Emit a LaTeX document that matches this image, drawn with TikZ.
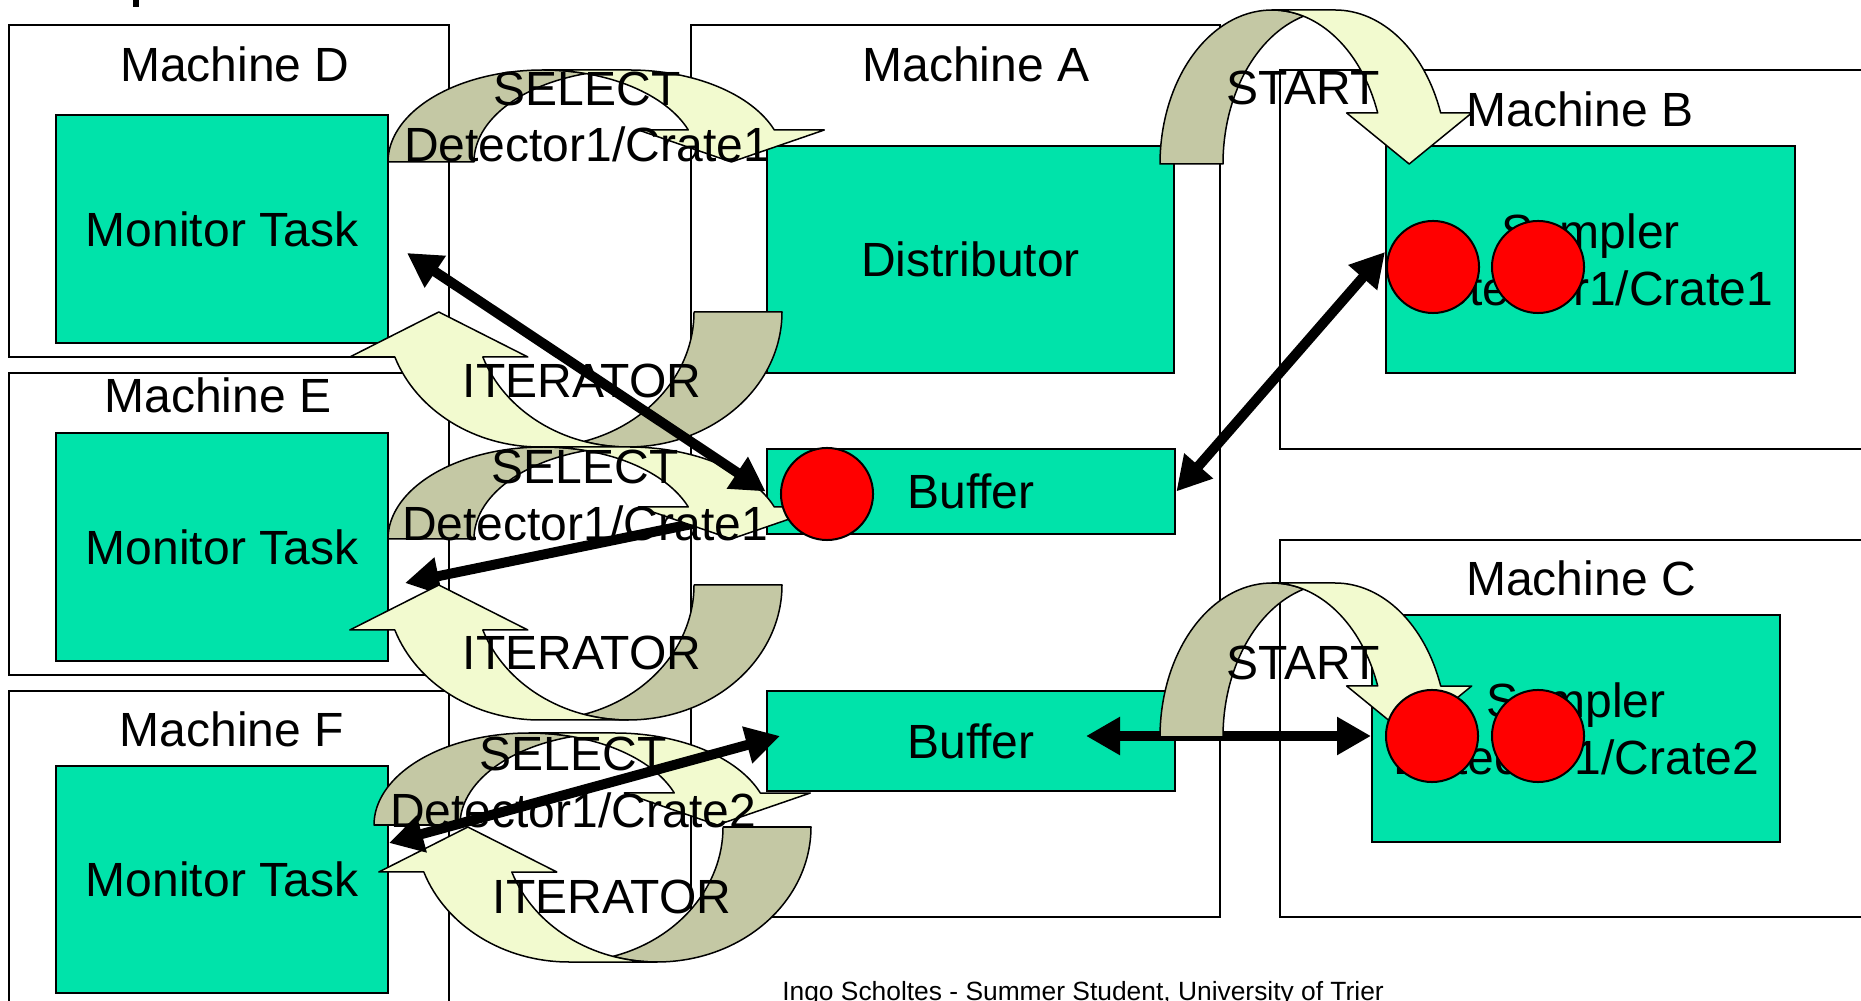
\documentclass[tikz,border=0pt]{standalone}
\usepackage{fontspec}
\setmainfont{Liberation Sans}
\usetikzlibrary{arrows.meta, fit}

\definecolor{taskgreen}{RGB}{0,227,170}
\definecolor{bandback}{RGB}{196,200,164}
\definecolor{bandfront}{RGB}{242,250,207}

% ribbon bent over like a bridge, back side dark, front side with the head
% #1 base centre, #2 turn, #3/#4 half width/height, #5 ribbon, #6 head, #7 barb
\newcommand{\bentarrow}[7]{%
  \begin{scope}[shift={#1}, rotate=#2]
    \pgfmathsetmacro{\bacross}{acos(#5/(2*#3))}
    \pgfmathsetmacro{\bahead}{360-asin(#6/#4)}
    \pgfmathsetmacro{\bax}{#3*cos(\bahead)}
    \filldraw[fill=bandback, band]
      (-#3,0) arc[start angle=180, end angle=360-\bacross, x radius=#3, y radius=#4]
      arc[start angle=180+\bacross, end angle=180, x radius=#3, y radius=#4] -- cycle;
    \filldraw[fill=bandfront, band]
      (0,-#4) -- (#5,-#4)
      arc[start angle=270, end angle=\bahead, x radius=#3, y radius=#4]
      -- ++(#7,0) -- ({\bax+#5/2},0) -- ({\bax-#7},-#6) -- (\bax,-#6)
      arc[start angle=\bahead, end angle=270, x radius=#3, y radius=#4] -- cycle;
  \end{scope}}

\begin{document}
\begin{tikzpicture}[x=0.01cm, y=-0.01cm,
    font=\fontsize{13.65}{16.2}\selectfont,
    machine/.style={draw, fill=white, line width=0.02cm, inner sep=0pt},
    task/.style={draw, fill=taskgreen, line width=0.025cm, inner sep=0pt, align=center},
    dot/.style={circle, draw, fill=red, line width=0.02cm, minimum size=0.92cm, inner sep=0pt},
    band/.style={draw=black, line width=0.015cm, line join=round},
    link/.style={line width=0.1cm, {Triangle[length=0.34cm,width=0.36cm]}-{Triangle[length=0.34cm,width=0.36cm]}},
    push/.style={line width=0.1cm, -{Triangle[length=0.34cm,width=0.36cm]}}]
  \useasboundingbox (0,0) rectangle (1861,1001);
  \clip (0,0) rectangle (1861,1001);
  \fill (133,0) rectangle (139,7);

  % machines
  \node[machine, fit={(9,25) (449,357)}] (machD) {};
  \node[machine, fit={(9,373) (449,675)}] (machE) {};
  \node[machine, fit={(9,691) (449,1030)}] (machF) {};
  \node[machine, fit={(691,25) (1220,917)}] (machA) {};
  \node[machine, fit={(1280,70) (1900,449)}] (machB) {};
  \node[machine, fit={(1280,540) (1900,917)}] (machC) {};
  \node[anchor=base] (labD) at (235,82) {Machine D};
  \node[anchor=base] (labE) at (218,413) {Machine E};
  \node[anchor=base] (labF) at (232,747) {Machine F};
  \node[anchor=base] (labA) at (976,82) {Machine A};
  \node[anchor=base] (labB) at (1580,127) {Machine B};
  \node[anchor=base] (labC) at (1581,596) {Machine C};

  % tasks
  \node[task, minimum width=3.32cm, minimum height=2.28cm] (monD) at (222,229) {Monitor Task};
  \node[task, minimum width=3.32cm, minimum height=2.28cm] (monE) at (222,547) {Monitor Task};
  \node[task, minimum width=3.32cm, minimum height=2.27cm] (monF) at (222,879.5) {Monitor Task};
  \node[task, minimum width=4.07cm, minimum height=2.27cm] (dist) at (970.5,259.5) {Distributor};
  \node[task, minimum width=4.08cm, minimum height=0.85cm] (buf1) at (971,491.5) {Buffer};
  \node[task, minimum width=4.08cm, minimum height=1.00cm] (buf2) at (971,741) {Buffer};
  \node[task, minimum width=4.09cm, minimum height=2.27cm] (sampB) at (1590.5,259.5) {Sampler\\Detector1/Crate1};
  \node[task, minimum width=4.08cm, minimum height=2.27cm] (sampC) at (1576,728.5) {Sampler\\Detector1/Crate2};

  \coordinate (monDin) at (407,253);
  \coordinate (monEin) at (405,583);
  \coordinate (monFin) at (389,843);
  \coordinate (buf1out) at (760,510);
  \coordinate (buf2in) at (780,736);
  \coordinate (buf2out) at (1086,736);
  \coordinate (sampBin) at (1385,252);
  \coordinate (sampCin) at (1371,736);

  % links that run under the ribbons
  \draw[push] (buf1out) -- (monEin);
  \draw[link] (buf2out) -- (sampCin);

  % ribbons
  \bentarrow{(543,162)}{0}{155}{92}{86}{32}{50}
  \bentarrow{(628,312)}{180}{154}{135}{88}{45}{45}
  \bentarrow{(543,539)}{0}{155}{92}{86}{32}{50}
  \bentarrow{(628,585)}{180}{154}{135}{88}{45}{45}
  \bentarrow{(529,825)}{0}{155}{92}{86}{32}{50}
  \bentarrow{(657,827)}{180}{154}{135}{88}{45}{45}
  \bentarrow{(1272,164)}{0}{112}{154}{63}{51}{31}
  \bentarrow{(1272,737)}{0}{112}{154}{63}{51}{31}

  \draw[link] (monDin) -- (buf1.west);
  \draw[link] (monFin) -- (buf2in);
  \draw[link] (buf1.east) -- (sampBin);

  % samples in flight
  \node[dot] (dotA) at (827,494) {};
  \node[dot] (dotB1) at (1433,267) {};
  \node[dot] (dotB2) at (1538,267) {};
  \node[dot] (dotC1) at (1432,736) {};
  \node[dot] (dotC2) at (1538,736) {};

  % ribbon labels
  \node[align=center] (selD) at (587,117) {SELECT\\Detector1/Crate1};
  \node[align=center] (selE) at (585,495) {SELECT\\Detector1/Crate1};
  \node[align=center] (selF) at (573,782) {SELECT\\Detector1/Crate2};
  \node[anchor=base] (itD) at (582,398) {ITERATOR};
  \node[anchor=base] (itE) at (582,670) {ITERATOR};
  \node[anchor=base] (itF) at (612,913) {ITERATOR};
  \node[anchor=base] (startB) at (1303,105) {START};
  \node[anchor=base] (startC) at (1303,680) {START};

  \node[anchor=base, font=\fontsize{7.5}{9}\selectfont] (foot) at (1083,1000)
    {Ingo Scholtes - Summer Student, University of Trier};
\end{tikzpicture}
\end{document}
